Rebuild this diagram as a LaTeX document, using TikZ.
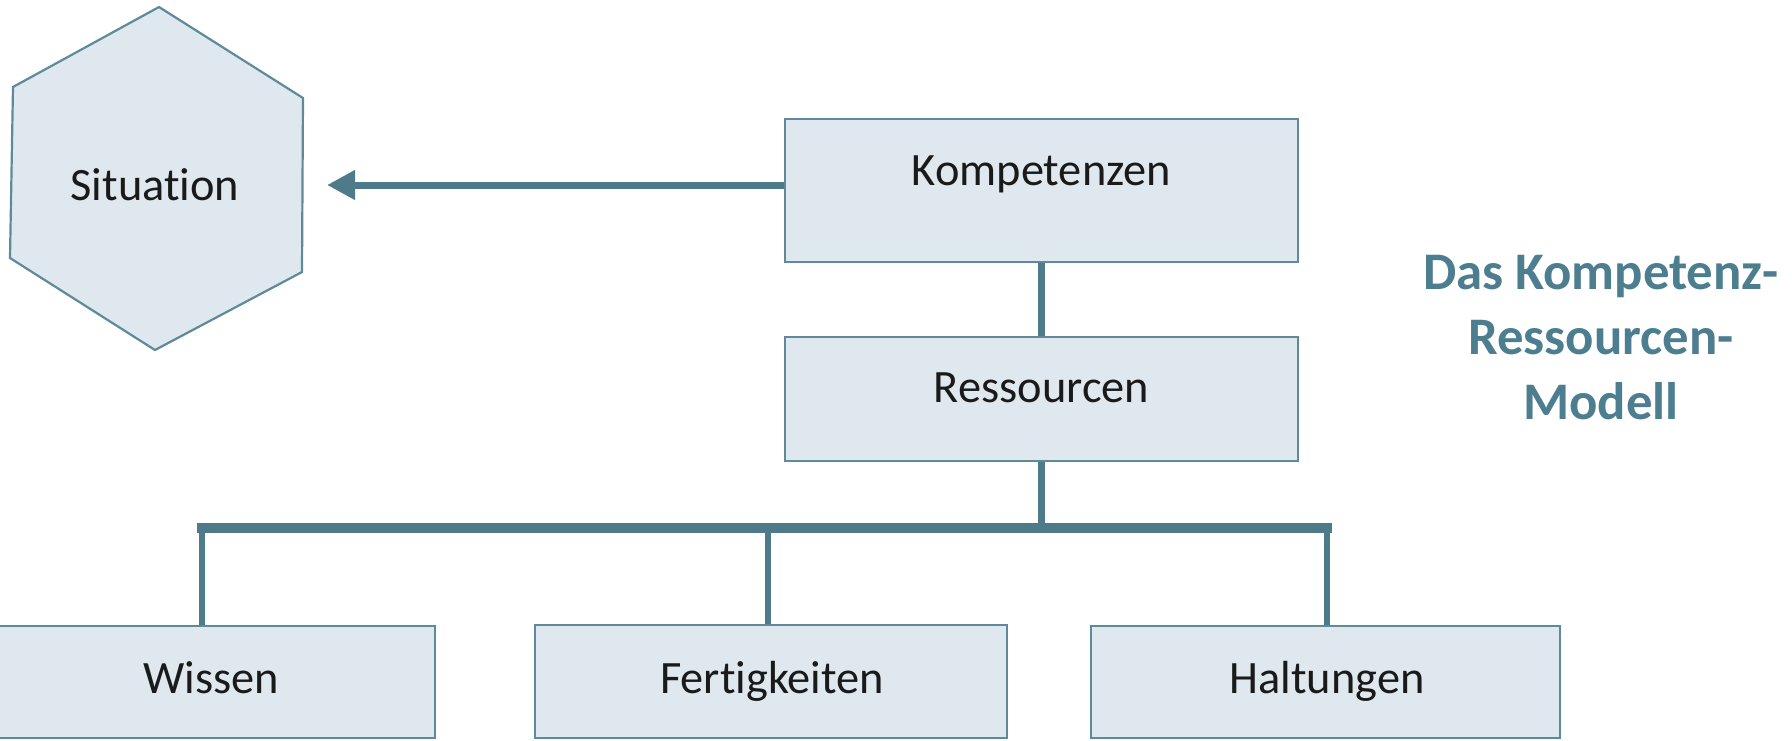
\documentclass[tikz,border=0pt]{standalone}
\usepackage{fontspec}
\setmainfont{Carlito}[Ligatures={NoCommon}]
\usetikzlibrary{arrows.meta,calc}
\definecolor{linkcol}{HTML}{4E7B8A}
\definecolor{framecol}{HTML}{5F8A99}
\definecolor{boxfill}{HTML}{DFE8EE}
\definecolor{titlecol}{HTML}{4D7E90}
\definecolor{inkcol}{HTML}{1A1A1A}
\tikzset{
  box/.style={draw=framecol, fill=boxfill, line width=1.1pt, inner sep=0pt},
  lbl/.style={anchor=base, font=\fontsize{23.2}{28}\selectfont, text=inkcol, inner sep=0pt},
  link/.style={draw=linkcol, line width=3.2pt},
  bus/.style={draw=linkcol, line width=5pt, line cap=rect},
  pointer/.style={draw=linkcol, line width=3.5pt, -{Triangle[length=14pt,width=14pt]}},
  heading/.style={font=\fontsize{26.4}{32.3}\selectfont\bfseries, text=titlecol, align=center, inner sep=0pt, anchor=base}
}
\begin{document}
\begin{tikzpicture}[x=0.5pt,y=-0.5pt]
\useasboundingbox (0,0) rectangle (1792,740);

% hexagon for the situation
\coordinate (h1) at (159,7);
\coordinate (h2) at (303,98);
\coordinate (h3) at (302,272);
\coordinate (h4) at (155,350);
\coordinate (h5) at (10,258);
\coordinate (h6) at (13,87);
\path[box] (h1) -- (h2) -- (h3) -- (h4) -- (h5) -- (h6) -- cycle;
\node[lbl] (sit) at (155,200) {Situation};
\coordinate (sitE) at (327,185);

% main boxes
\node[box, minimum width=256.5pt, minimum height=71.5pt] (komp) at (1041.5,190.5) {};
\node[lbl] (kompT) at (1041.5,185) {Kompetenzen};
\node[box, minimum width=256.5pt, minimum height=62pt] (ress) at (1041.5,399) {};
\node[lbl] (ressT) at (1041.5,402) {Ressourcen};

% resource categories
\node[box, minimum width=223pt, minimum height=56pt] (wiss) at (212,682) {};
\node[lbl] (wissT) at (211,693) {Wissen};
\node[box, minimum width=236pt, minimum height=56.5pt] (fert) at (771,681.5) {};
\node[lbl] (fertT) at (772,693) {Fertigkeiten};
\node[box, minimum width=234.5pt, minimum height=56pt] (halt) at (1325.5,682) {};
\node[lbl] (haltT) at (1327,693) {Haltungen};

% connectors
\draw[pointer] (komp.west |- sitE) -- (sitE);
\draw[link] (komp.south) -- (ress.north);
\coordinate (busL) at (202,528);
\coordinate (busM) at (768,528);
\coordinate (busR) at (1327,528);
\draw[link] (ress.south) -- (ress.south |- busL);
\draw[bus] (busL) -- (busR);
\draw[link] (busL) -- (busL |- wiss.north);
\draw[link] (busM) -- (busM |- fert.north);
\draw[link] (busR) -- (busR |- halt.north);

% title (base anchor sits on the last line)
\node[heading] (title) at (1601,419) {Das Kompetenz-\\Ressourcen-\\Modell};
\end{tikzpicture}
\end{document}
